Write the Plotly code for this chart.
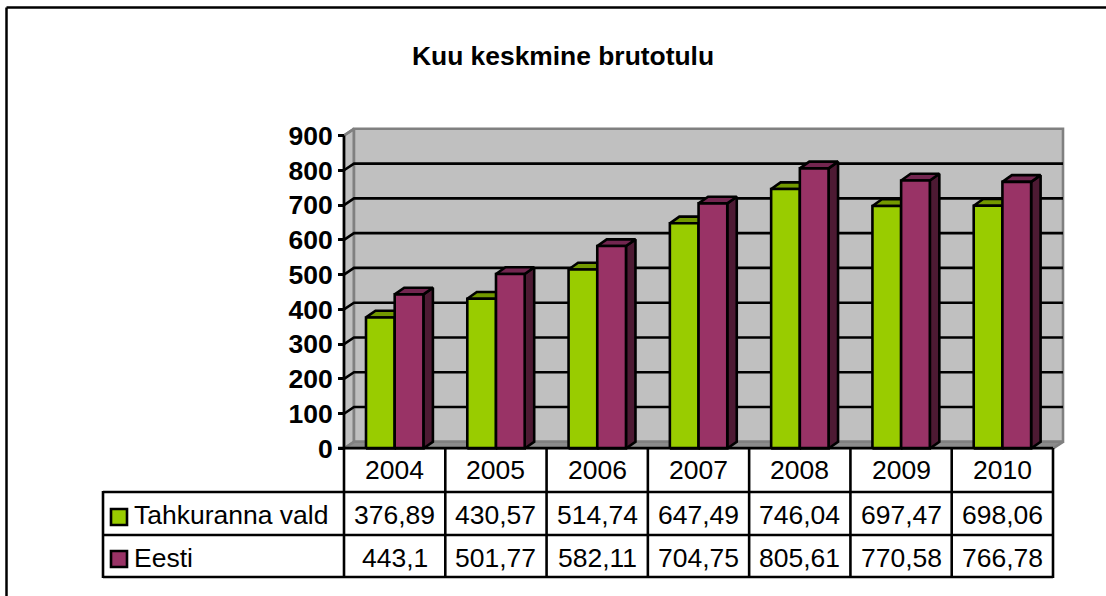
import plotly.graph_objects as go

# ---- data ----
title = "Kuu keskmine brutotulu"
years = ["2004", "2005", "2006", "2007", "2008", "2009", "2010"]
tahkuranna = [376.89, 430.57, 514.74, 647.49, 746.04, 697.47, 698.06]
eesti = [443.1, 501.77, 582.11, 704.75, 805.61, 770.58, 766.78]
value_labels_t = ["376,89", "430,57", "514,74", "647,49", "746,04", "697,47", "698,06"]
value_labels_e = ["443,1", "501,77", "582,11", "704,75", "805,61", "770,58", "766,78"]
series_names = ["Tahkuranna vald", "Eesti"]
y_ticks = [0, 100, 200, 300, 400, 500, 600, 700, 800, 900]

# ---- layout constants (pixels) ----
W, H = 1106, 596
X0, X7 = 344.0, 1053.0      # front plane left/right
Y0, Y900 = 448.5, 135.5     # front plane value 0 / 900
DEPTH_X, DEPTH_Y = 10.0, 6.7
BAR_DX, BAR_DY = 9.5, 6.7
FONT = "Liberation Sans"
TEXT_SIZE = 26.5
TICK_SIZE = 26.5
TITLE_SIZE = 26.4
LW = 2.6

px_per_cat = (X7 - X0) / 7
px_per_val = (Y0 - Y900) / 900
xr = [-X0 / px_per_cat, (W - X0) / px_per_cat]
yr = [(Y0 - H) / px_per_val, Y0 / px_per_val]
dx = DEPTH_X / px_per_cat
dy = DEPTH_Y / px_per_val
bdx = BAR_DX / px_per_cat
bdy = BAR_DY / px_per_val
bar_off = 22.0 / px_per_cat
bar_w = 28.7 / px_per_cat


def X(p):
    return (p - X0) / px_per_cat


def Y(p):
    return (Y0 - p) / px_per_val


fig = go.Figure()


def poly(xs, ys, fill=None, line="black", width=LW):
    fig.add_trace(go.Scatter(
        x=xs, y=ys, mode="lines",
        fill="toself" if fill else "none", fillcolor=fill,
        line=dict(color=line, width=width),
        hoverinfo="skip", showlegend=False))


# walls
WALL = "#C0C0C0"
EDGE = "#808080"
top = 900
poly([0, dx, dx, 0, 0], [0, dy, top + dy, top, 0], WALL, EDGE)
poly([dx, 7 + dx, 7 + dx, dx, dx], [dy, dy, top + dy, top + dy, dy], WALL, EDGE)
# floor
poly([0, 7, 7 + dx, dx, 0], [0, 0, dy, dy, 0], "#8C8C8C", EDGE)

# gridlines (front tick -> wall -> back)
for v in y_ticks[1:-1]:
    poly([0, dx, 7 + dx], [v, v + dy, v + dy], None, "black")
poly([0, dx], [top, top + dy], None, EDGE)

# bars
series = [(tahkuranna, "#99CC00", "#739900", "#4D6600"),
          (eesti, "#993366", "#732650", "#4D1A33")]
for i in range(len(years)):
    for s, (vals, front, topc, side) in enumerate(series):
        x0 = i + bar_off + s * bar_w
        x1 = x0 + bar_w
        v = vals[i]
        # side face
        poly([x1, x1 + bdx, x1 + bdx, x1, x1], [0, bdy, v + bdy, v, 0], side)
        # top face
        poly([x0, x0 + bdx, x1 + bdx, x1, x0], [v, v + bdy, v + bdy, v, v], topc)
        # front face
        poly([x0, x1, x1, x0, x0], [0, 0, v, v, 0], front)

# front axis line
poly([0, 0], [0, top], None, "black")

# table grid
row_y = [448, 492, 535, 577]
TABLE_L = 103
shapes = []


def seg(x0, y0, x1, y1, w=LW, c="black"):
    shapes.append(dict(type="line", xref="paper", yref="paper",
                       x0=x0 / W, x1=x1 / W, y0=1 - y0 / H, y1=1 - y1 / H,
                       line=dict(color=c, width=w), layer="above"))


seg(338, row_y[0], X7, row_y[0])
for r in row_y[1:]:
    seg(TABLE_L, r, X7, r)
seg(TABLE_L, row_y[1] - 1, TABLE_L, row_y[3] + 1)
for k in range(8):
    xk = X0 + k * px_per_cat
    seg(xk, row_y[0], xk, row_y[3] + 1)

# outer frame (top and left only)
seg(6.5, 7.5, W, 7.5, 2.5)
seg(6.5, 7.5, 6.5, H, 2.5)

annotations = []


def text(px, py, s, anchor="center", size=TEXT_SIZE):
    annotations.append(dict(x=px / W, y=1 - py / H, xref="paper", yref="paper",
                            text=s, showarrow=False, xanchor=anchor, yanchor="middle",
                            font=dict(family=FONT, size=size, color="black"),
                            borderpad=0, borderwidth=0))


row_c = [470, 515, 558]
for k, yr_lab in enumerate(years):
    cx = X0 + (k + 0.5) * px_per_cat
    text(cx, row_c[0], yr_lab)
    text(cx, row_c[1], value_labels_t[k])
    text(cx, row_c[2], value_labels_e[k])
text(134, row_c[1], series_names[0], "left")
text(134, row_c[2], series_names[1], "left")

# legend keys
key_y = [517, 559]
for j, col in enumerate(["#99CC00", "#993366"]):
    fig.add_trace(go.Scatter(
        x=[X(119)], y=[Y(key_y[j])], mode="markers",
        marker=dict(symbol="square", size=16, color=col, line=dict(color="black", width=2.6)),
        hoverinfo="skip", showlegend=False))

fig.update_layout(
    width=W, height=H, margin=dict(l=0, r=0, t=0, b=0),
    paper_bgcolor="white", plot_bgcolor="white",
    showlegend=False, shapes=shapes, annotations=annotations,
    title=dict(text="<b>" + title + "</b>", x=563 / W, y=1 - 56 / H,
               xanchor="center", yanchor="middle",
               font=dict(family=FONT, size=TITLE_SIZE, color="black")),
    xaxis=dict(range=xr, visible=False, fixedrange=True),
    yaxis=dict(range=yr, anchor="free", position=X0 / W, showline=False, showgrid=False,
               zeroline=False, tickmode="array", tickvals=y_ticks,
               ticktext=["<b>%d</b>" % t for t in y_ticks],
               ticks="outside", ticklen=6, tickwidth=2.6, tickcolor="black",
               tickfont=dict(family=FONT, size=TICK_SIZE, color="black"), fixedrange=True),
)

fig.write_html("out.html", config=dict(displayModeBar=False),
               post_script="document.body.style.margin='0';document.body.style.overflow='hidden';")
